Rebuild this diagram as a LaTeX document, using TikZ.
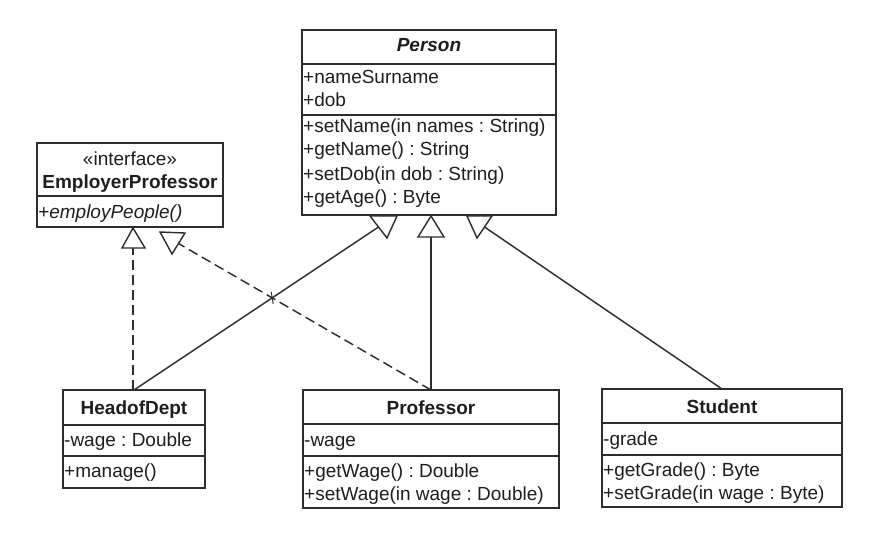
\documentclass[tikz,border=0pt]{standalone}
\usepackage{fontspec}
\setmainfont{Liberation Sans}
\usetikzlibrary{intersections}
\definecolor{linec}{RGB}{45,45,45}
\definecolor{textc}{RGB}{30,30,30}
\newcommand\umlfont{\fontsize{19}{23}\selectfont}
\frenchspacing
\begin{document}
\begin{tikzpicture}[x=1pt,y=-1pt,
 cls/.style={draw=linec, line width=1.4pt, fill=white, inner sep=0pt, outer sep=0pt, anchor=north west},
 sepline/.style={draw=linec, line width=1.3pt},
 txt/.style={anchor=base west, inner sep=0pt, text=textc, font=\umlfont},
 ttl/.style={anchor=base, inner sep=0pt, text=textc, font=\umlfont\bfseries},
 rel/.style={draw=linec, line width=1.45pt},
 realz/.style={rel, dash pattern=on 10pt off 5pt},
 tri/.style={draw=linec, line width=1.4pt, fill=white, line join=miter}]
\useasboundingbox (0,0) rectangle (869,548);

% ---------- Person ----------
\node[cls, minimum width=254pt, minimum height=185pt] (person) at (302,30) {};
\draw[sepline] (302,64) -- (556,64);
\draw[sepline] (302,115) -- (556,115);
\node[ttl, font=\umlfont\bfseries\itshape] (persont) at (429,52) {Person};
\node[txt] (pa1) at (303,84) {+nameSurname};
\node[txt] (pa2) at (303,107) {+dob};
\node[txt] (pm1) at (303,133) {+setName(in names : String)};
\node[txt] (pm2) at (303,156) {+getName() : String};
\node[txt] (pm3) at (303,180) {+setDob(in dob : String)};
\node[txt] (pm4) at (303,203) {+getAge() : Byte};

% ---------- Interface ----------
\node[cls, minimum width=186pt, minimum height=84pt] (iface) at (37,143) {};
\draw[sepline] (37,196) -- (223,196);
\node[anchor=base, inner sep=0pt, text=textc, font=\umlfont] (ifs) at (130,166) {«interface»};
\node[ttl] (ifn) at (130,188) {EmployerProfessor};
\node[txt, font=\umlfont\itshape] (ifm) at (38,218) {+employPeople()};

% ---------- HeadofDept ----------
\node[cls, minimum width=142pt, minimum height=98pt] (head) at (63,390) {};
\draw[sepline] (63,425) -- (205,425);
\draw[sepline] (63,456) -- (205,456);
\node[ttl] (headt) at (134,414) {HeadofDept};
\node[txt] (ha1) at (64,446) {-wage : Double};
\node[txt] (hm1) at (64,477) {+manage()};

% ---------- Professor ----------
\node[cls, minimum width=256pt, minimum height=118pt] (prof) at (303,390) {};
\draw[sepline] (303,424) -- (559,424);
\draw[sepline] (303,456) -- (559,456);
\node[ttl] (proft) at (431,414) {Professor};
\node[txt] (pra1) at (304,446) {-wage};
\node[txt] (prm1) at (304,477) {+getWage() : Double};
\node[txt] (prm2) at (304,500) {+setWage(in wage : Double)};

% ---------- Student ----------
\node[cls, minimum width=240pt, minimum height=118pt] (stud) at (602,389) {};
\draw[sepline] (602,423) -- (842,423);
\draw[sepline] (602,455) -- (842,455);
\node[ttl] (studt) at (722,413) {Student};
\node[txt] (sa1) at (603,445) {-grade};
\node[txt] (sm1) at (603,476) {+getGrade() : Byte};
\node[txt] (sm2) at (603,499) {+setGrade(in wage : Byte)};

% ---------- attach points ----------
\coordinate (ifL) at (133,248);
\coordinate (ifR) at (178.5,243.5);
\coordinate (peL) at (378.5,227);
\coordinate (peM) at (431,237);
\coordinate (peR) at (484.5,227);

% ---------- connectors ----------
\draw[realz] (head.north -| ifL) -- (ifL);
\draw[realz, name path=dl] (prof.north) -- (ifR);
\draw[rel, name path=sl] (head.north) -- (peL);
\draw[rel] (prof.north) -- (peM);
\draw[rel] (stud.north) -- (peR);
\path[name intersections={of=dl and sl, by=cross}];
\draw[rel, line width=1pt] (cross) ++(-1,-6) -- ++(2,12);

% ---------- triangles ----------
\draw[tri] (133,228) -- (122,248) -- (145,248) -- cycle;
\draw[tri] (160,232) -- (185,233) -- (172,254) -- cycle;
\draw[tri] (370,216) -- (397,216) -- (387,238) -- cycle;
\draw[tri] (431,216) -- (418,237) -- (444,237) -- cycle;
\draw[tri] (467,216) -- (492,216) -- (477,238) -- cycle;
\end{tikzpicture}
\end{document}
